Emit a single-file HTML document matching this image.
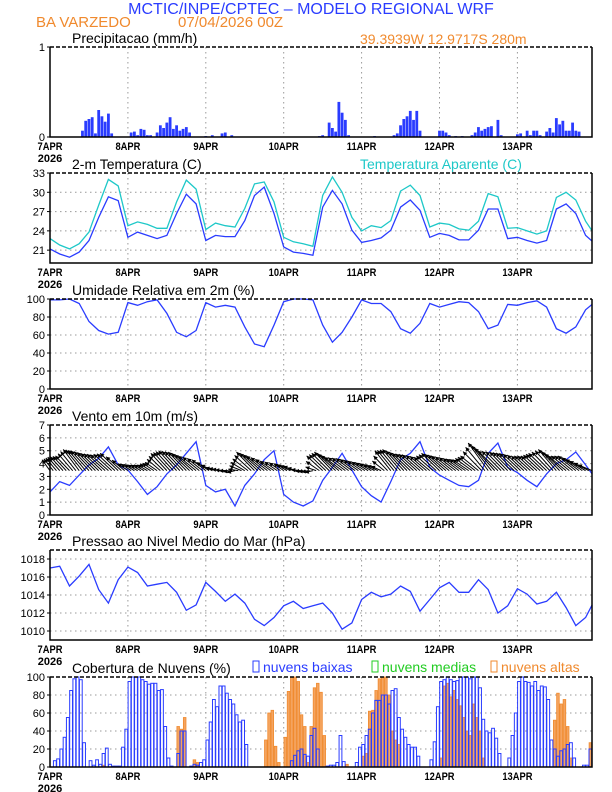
<!DOCTYPE html>
<html><head><meta charset="utf-8">
<style>
html,body{margin:0;padding:0;background:#fff;}
svg{display:block;font-family:"Liberation Sans",sans-serif;}
</style></head>
<body>
<svg id="chart" xmlns="http://www.w3.org/2000/svg" width="612" height="792" viewBox="0 0 612 792">
<text x="311" y="14" text-anchor="middle" font-size="16" fill="#2a3cff">MCTIC/INPE/CPTEC – MODELO REGIONAL WRF</text>
<text x="36" y="27" font-size="15" fill="#f08a2e">BA VARZEDO</text>
<text x="178" y="27" font-size="15" fill="#f08a2e">07/04/2026 00Z</text>
<text x="360" y="44" font-size="14" fill="#f08a2e">39.3939W 12.9717S 280m</text>
<g id="layer"></g>
</svg>
<script>
// ---------- data ----------
const dayLabels = ["7APR","8APR","9APR","10APR","11APR","12APR","13APR"];
const hours3 = [0,3,6,9,12,15,18,21,24,27,30,33,36,39,42,45,48,51,54,57,60,63,66,69,72,75,78,81,84,87,90,93,96,99,102,105,108,111,114,117,120,123,126,129,132,135,138,141,144,147,150,153,156,159,162,165,167];
const tempVals = [21.2,20.4,19.9,20.7,22.5,26.1,29.3,28.7,23.0,23.8,23.3,22.8,23.3,26.7,29.7,28.2,22.5,23.3,23.1,23.1,25.6,29.5,30.8,26.7,21.5,20.7,20.5,20.2,27.7,30.3,28.2,24.1,22.2,22.5,22.9,24.1,27.7,28.8,27.2,23.0,23.6,23.3,22.6,22.6,24.1,27.4,27.4,22.8,23.0,22.5,22.1,22.5,27.4,28.2,26.7,23.3,22.4];
const apparentVals = [22.8,21.8,21.2,22.0,23.8,28.0,32.0,31.0,24.8,25.4,25.0,24.4,24.4,28.5,31.9,30.5,24.2,25.2,24.8,24.6,27.5,31.3,31.6,28.5,23.0,22.3,22.0,21.6,29.5,32.4,30.0,26.1,24.0,24.8,24.5,25.6,30.2,31.1,29.5,24.6,25.2,25.0,24.3,24.1,25.5,29.8,29.3,24.4,24.5,24.0,23.5,24.0,29.2,30.0,28.8,25.5,24.0];
const humidityVals = [99,99,100,95,75,65,61,63,96,93,97,99,84,63,58,65,96,91,93,91,69,50,47,71,97,100,100,99,71,52,63,80,99,95,95,86,67,62,73,95,91,94,97,96,86,67,71,94,93,96,98,91,67,62,69,88,94];
const windSpeed = [1.8,2.6,2.3,3.1,3.9,4.4,5.3,3.9,3.5,2.6,1.6,2.2,3.2,3.9,4.8,5.7,2.3,1.8,2.0,0.7,2.3,3.2,4.3,5.0,1.6,1.0,0.7,1.1,2.7,3.7,4.8,3.5,2.2,1.5,1.0,2.6,4.3,4.8,5.7,3.7,3.1,2.7,2.3,2.2,2.7,4.8,5.6,3.7,3.3,2.7,2.2,3.2,4.0,4.3,4.9,3.9,3.2];
const arrowTip = [4.3,4.5,4.6,5.1,5.0,4.8,4.7,4.8,4.0,3.9,3.9,4.1,4.8,5.0,4.9,4.6,4.3,3.7,3.5,3.3,4.1,4.9,4.6,4.2,4.0,3.8,3.4,3.3,4.6,4.9,4.5,4.4,4.2,4.0,3.8,5.0,5.1,4.8,4.7,4.5,4.8,4.6,4.4,4.3,4.6,5.6,5.0,4.9,4.8,4.6,4.6,4.8,5.1,4.6,4.6,4.2,3.9];
const arrowU = [-2,-3,-3.5,-4,-4.5,-4.5,-4.5,-4.5,-2.5,-2.5,-2.5,-3,-4,-4.5,-4.5,-4.5,-3.5,-2.5,-2.5,-2,-3.5,-4.5,-4.5,-3.5,-2.5,-2.5,-2,-2,-4,-4.5,-4.5,-4,-3.5,-3,-2.5,-4,-4.5,-4.5,-4.5,-4,-4.5,-4.5,-4,-4,-4.5,-5,-5,-4.5,-4.5,-4,-4,-4.5,-4.5,-4.5,-4.5,-4,-3.5];
const pressureVals = [1017.0,1017.2,1015.0,1016.1,1017.4,1014.6,1013.1,1015.7,1017.1,1016.5,1015.0,1015.2,1015.4,1014.3,1012.3,1012.9,1015.4,1014.4,1013.3,1014.1,1013.1,1011.3,1010.6,1011.5,1012.8,1013.3,1012.5,1012.8,1013.1,1012.0,1010.2,1010.9,1013.5,1014.3,1013.8,1014.1,1015.0,1014.4,1012.2,1013.5,1014.8,1015.4,1014.3,1014.3,1015.7,1014.6,1012.0,1012.8,1014.7,1014.1,1013.0,1013.3,1014.3,1012.6,1010.6,1011.5,1012.9];
const precipHours = [10,11,12,13,14,15,16,17,18,19,25,26,27,28,29,30,31,33,34,35,36,37,38,39,40,41,42,43,48,50,53,54,56,83,84,86,87,88,89,90,91,92,100,106,107,108,109,110,111,112,113,114,120,121,122,123,125,127,130,131,132,133,134,135,136,138,139,144,145,147,148,149,150,151,153,154,155,156,157,158,159,160,161,162,163];
const precipVals = [0.07,0.18,0.20,0.22,0.04,0.30,0.23,0.17,0.26,0.04,0.05,0.06,0.02,0.09,0.08,0.02,0.02,0.05,0.13,0.10,0.16,0.22,0.09,0.13,0.07,0.09,0.11,0.05,0.01,0.02,0.04,0.05,0.02,0.01,0.02,0.16,0.10,0.06,0.39,0.27,0.19,0.02,0.01,0.02,0.04,0.13,0.20,0.23,0.29,0.19,0.29,0.07,0.07,0.07,0.05,0.02,0.01,0.01,0.02,0.05,0.11,0.07,0.09,0.11,0.12,0.19,0.02,0.03,0.04,0.07,0.02,0.07,0.07,0.02,0.06,0.10,0.05,0.21,0.14,0.18,0.07,0.07,0.16,0.07,0.06];
const lowClouds = [0,7,9,20,33,55,85,98,100,97,27,0,7,2,8,3,15,21,3,1,1,1,22,42,
95,100,100,100,97,95,92,93,93,85,86,45,10,1,0,15,40,40,0,1,3,2,5,8,
30,50,75,67,90,90,82,75,70,58,50,52,25,0,0,0,0,0,0,0,0,0,0,0,
0,0,7,13,18,20,14,12,35,43,20,0,0,1,2,2,5,35,6,0,0,0,5,22,
25,35,42,60,74,74,80,80,70,85,87,55,42,33,25,22,22,12,0,0,0,8,28,67,
95,97,100,97,95,96,100,100,100,98,100,100,88,53,40,38,43,32,15,0,0,10,35,60,
95,100,95,94,90,95,85,90,89,75,30,20,12,18,20,25,27,10,0,0,2,2,20,0];
const highClouds = [0,0,0,0,0,0,0,0,0,0,0,0,0,0,0,0,2,0,0,0,0,0,0,0,
0,0,0,0,0,0,0,0,0,0,0,0,0,0,0,45,42,55,0,0,8,5,0,0,
0,0,0,0,0,0,0,0,0,0,0,0,0,0,0,0,0,0,30,60,63,23,5,0,
33,84,100,100,95,58,45,5,45,88,93,83,35,0,0,0,0,0,0,3,0,0,0,0,
12,15,62,63,85,98,100,100,80,40,30,25,0,0,0,0,0,0,0,0,0,0,0,0,
10,90,93,78,85,75,68,55,40,35,70,55,40,10,0,0,0,0,0,0,0,0,0,0,
0,0,0,0,0,0,0,0,0,0,0,52,82,70,75,45,10,0,0,0,0,0,27,0];

// ---------- layout ----------
const NS="http://www.w3.org/2000/svg";
const layer=document.getElementById('layer');
const X0=50, X1=592, DAY=77.9, PH=90;
const xs = h => X0 + h*DAY/24;
function mk(tag, attrs, parent){const e=document.createElementNS(NS,tag);for(const k in attrs)e.setAttribute(k,attrs[k]);(parent||layer).appendChild(e);return e;}

function panel(top, min, max, ticks, title, name){
  const g=mk('g',{});
  
  
  const ys=v=>top+PH-(v-min)/(max-min)*PH;
  ticks.forEach(t=>{
    if(t>min&&t<max){const l=mk('line',{x1:X0,x2:X1,y1:ys(t),y2:ys(t),stroke:'#999','stroke-width':1,'stroke-dasharray':'1.5,3.5'},g);
    
    }
    const tl=mk('text',{x:X0-5,y:ys(t)+4,'text-anchor':'end','font-size':11},g);
    tl.textContent=t;
    
    
    mk('line',{x1:X0-3,x2:X0,y1:ys(t),y2:ys(t),stroke:'#000'},g);
  });
  dayLabels.forEach((d,i)=>{
    const x=X0+i*DAY;
    if(i>0){const l=mk('line',{x1:x,x2:x,y1:top,y2:top+PH,stroke:'#999','stroke-dasharray':'1.5,3.5'},g);
    
    }
    const tl=mk('text',{x:x,y:top+PH+13,'text-anchor':'middle','font-size':11,'font-weight':'bold',transform:`translate(${x},0) scale(0.85,1) translate(${-x},0)`},g);
    tl.textContent=d;
    
    
  });
  const yr=mk('text',{x:X0,y:top+PH+25,'text-anchor':'middle','font-size':11,'font-weight':'bold'},g);
  yr.textContent='2026';
  
  
  const tt=mk('text',{x:72,y:top-4,'font-size':14},g);
  tt.textContent=title;
  
  
  return {g,ys,top};
}
function frame(p){
  mk('line',{x1:X0,x2:X1,y1:p.top,y2:p.top,stroke:'#000','stroke-width':1.5,'stroke-dasharray':'4,2'},p.g);
  mk('path',{d:`M${X0},${p.top}V${p.top+PH}H${X1}V${p.top}`,fill:'none',stroke:'#000','stroke-width':1.5},p.g);
}
function line(p,vals,color,name){
  const d=vals.map((v,i)=>(i?'L':'M')+xs(hours3[i]).toFixed(1)+','+p.ys(v).toFixed(1)).join('');
  const e=mk('path',{d,fill:'none',stroke:color,'stroke-width':1.3},p.g);
  
  
}

// Precip
const p1=panel(47,0,1,[0,1],'Precipitacao (mm/h)','precip-panel');
precipHours.forEach((h,i)=>{
  const y=p1.ys(precipVals[i]);
  const b=mk('rect',{x:xs(h)-1.4,y:y,width:2.8,height:p1.ys(0)-y,fill:'#2a3cff'},p1.g);
  
  
});
frame(p1);

// Temp
const p2=panel(173,19,33,[21,24,27,30,33],'2-m Temperatura (C)','temperature-panel');
const lgT=mk('text',{x:360,y:169,'font-size':14,fill:'#1ec8c8'},p2.g);
lgT.textContent='Temperatura Aparente (C)';


line(p2,apparentVals,'#1ec8c8','apparent-temp-line');
line(p2,tempVals,'#2a3cff','temperature-line');
frame(p2);

// Humidity
const p3=panel(299,0,100,[0,20,40,60,80,100],'Umidade Relativa em 2m (%)','humidity-panel');
line(p3,humidityVals,'#2a3cff','humidity-line');
frame(p3);

// Wind
const p4=panel(425,0,7,[0,1,2,3,4,5,6,7],'Vento em 10m (m/s)','wind-panel');
line(p4,windSpeed,'#2a3cff','wind-speed-line');
const yb=p4.ys(3.45);
function drawArrow(x,tx,ty){
  const a=mk('g',{},p4.g);
  
  
  mk('line',{x1:x,y1:yb,x2:tx,y2:ty,stroke:'#000','stroke-width':1},a);
  const ang=Math.atan2(ty-yb,tx-x);
  const hl=4.5;
  const p=[[tx,ty],[tx-hl*Math.cos(ang-0.5),ty-hl*Math.sin(ang-0.5)],[tx-hl*Math.cos(ang+0.5),ty-hl*Math.sin(ang+0.5)]];
  mk('polygon',{points:p.map(q=>q.join(',')).join(' '),fill:'#000'},a);
}
hours3.forEach((h,i)=>{
  const x=xs(h), tx=x+arrowU[i]*4, ty=p4.ys(arrowTip[i]);
  drawArrow(x,tx,ty);
  // intermediate hourly arrows drawn between data points (rendering only)
  if(i<hours3.length-1){
    const h2=hours3[i+1], n=h2-h;
    for(let k=1;k<n;k++){
      const f=k/n;
      const xm=xs(h+k);
      const u=arrowU[i]+(arrowU[i+1]-arrowU[i])*f;
      const t=arrowTip[i]+(arrowTip[i+1]-arrowTip[i])*f;
      drawArrow(xm,xm+u*4,p4.ys(t));
    }
  }
});
frame(p4);

// Pressure
const p5=panel(550,1009,1019,[1010,1012,1014,1016,1018],'Pressao ao Nivel Medio do Mar (hPa)','pressure-panel');
line(p5,pressureVals,'#2a3cff','pressure-line');
frame(p5);

// Clouds
const p6=panel(677,0,100,[0,20,40,60,80,100],'Cobertura de Nuvens (%)','cloud-panel');
highClouds.forEach((v,h)=>{
  if(v<=0)return;
  const y=p6.ys(v);
  const b=mk('rect',{x:xs(h)+0.3,y:y,width:2.6,height:p6.ys(0)-y,fill:'#f4a460',stroke:'#f08a2e','stroke-width':0.8},p6.g);
  
  
});
lowClouds.forEach((v,h)=>{
  if(v<=0)return;
  const y=p6.ys(v);
  const b=mk('rect',{x:xs(h)+0.2,y:y,width:2.8,height:p6.ys(0)-y,fill:'none',stroke:'#2a3cff','stroke-width':1},p6.g);
  
  
});
frame(p6);
[['nuvens baixas','#2a3cff',253],['nuvens medias','#22cc22',372],['nuvens altas','#f08a2e',491]].forEach(([t,c,x])=>{
  const g=mk('g',{},p6.g);
  
  
  mk('rect',{x:x,y:661,width:6,height:11,fill:'none',stroke:c,'stroke-width':1},g);
  const tx=mk('text',{x:x+10,y:672,'font-size':14,fill:c},g);
  tx.textContent=t;
});
</script>
</body></html>
